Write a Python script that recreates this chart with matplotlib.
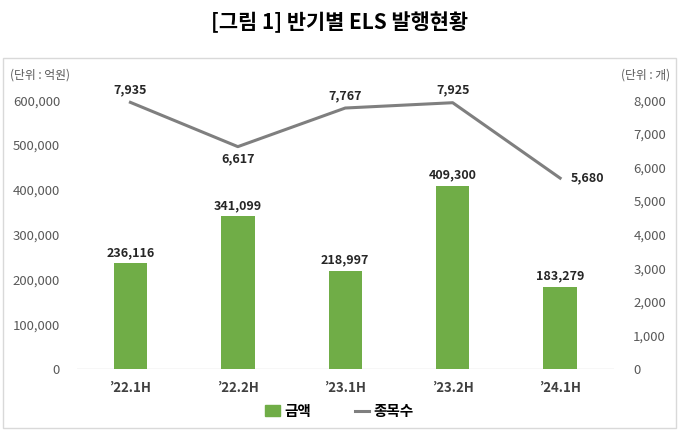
import matplotlib.pyplot as plt
from matplotlib.patches import Rectangle
from matplotlib.lines import Line2D
from matplotlib.ticker import FuncFormatter

plt.rcParams['font.family'] = ['Noto Sans CJK KR', 'DejaVu Sans']

periods = ['\u201922.1H', '\u201922.2H', '\u201923.1H', '\u201923.2H', '\u201924.1H']
amount = [236116, 341099, 218997, 409300, 183279]
count = [7935, 6617, 7767, 7925, 5680]

green = '#70AD47'
gray = '#7F7F7F'
tick_col = '#595959'

fig = plt.figure(figsize=(6.79, 4.30), dpi=100)
ax = fig.add_axes([0.113, 0.142, 0.791, 0.625])
ax2 = ax.twinx()

x = range(len(periods))
ax.bar(x, amount, width=0.31, color=green, zorder=2)
for i, v in enumerate(amount):
    ax.text(i, v + 9000, f'{v:,}', ha='center', va='bottom', fontsize=9,
            fontweight='bold', color='#262626')

ax2.plot(x, count, color=gray, lw=2.2, zorder=3)
for i, v in enumerate(count):
    if i == 1:
        ax2.text(i, v - 180, f'{v:,}', ha='center', va='top', fontsize=9,
                 fontweight='bold', color='#262626')
    elif i == 4:
        ax2.text(i + 0.1, v, f'{v:,}', ha='left', va='center', fontsize=9,
                 fontweight='bold', color='#262626')
    else:
        ax2.text(i, v + 180, f'{v:,}', ha='center', va='bottom', fontsize=9,
                 fontweight='bold', color='#262626')

ax.set_xlim(-0.5, len(periods) - 0.5)
ax.set_ylim(0, 600000)
ax2.set_ylim(0, 8000)
ax.set_yticks(range(0, 600001, 100000))
ax2.set_yticks(range(0, 8001, 1000))
fmt = FuncFormatter(lambda v, p: f'{int(v):,}')
ax.yaxis.set_major_formatter(fmt)
ax2.yaxis.set_major_formatter(fmt)
ax.set_xticks(list(x))
ax.set_xticklabels(periods, fontweight='bold', fontsize=9.5, color='#404040')

for a in (ax, ax2):
    for s in a.spines.values():
        s.set_visible(False)
    a.tick_params(length=0, labelsize=9.5, labelcolor=tick_col)
ax.tick_params(axis='y', pad=12)
ax2.tick_params(axis='y', pad=14)
ax.tick_params(axis='x', pad=9, labelcolor='#404040')
ax.axhline(0, color='#D9D9D9', lw=1, zorder=1)

fig.text(0.5, 0.948, '[그림 1] 반기별 ELS 발행현황', ha='center', va='center',
         fontsize=15, fontweight='bold')
fig.text(0.015, 0.825, '(단위 : 억원)', ha='left', va='center', fontsize=8.5, color=tick_col)
fig.text(0.987, 0.825, '(단위 : 개)', ha='right', va='center', fontsize=8.5, color=tick_col)

fig.patches.append(Rectangle((0.005, 0.005), 0.99, 0.86, transform=fig.transFigure,
                             fill=False, edgecolor='#D9D9D9', lw=1))

handles = [Rectangle((0, 0), 1, 1, color=green),
           Line2D([0], [0], color=gray, lw=2.2)]
fig.legend(handles, ['금액', '종목수'], loc='center', bbox_to_anchor=(0.5, 0.045),
           ncol=2, frameon=False, handlelength=1.0, handletextpad=0.3,
           columnspacing=3.0, prop={'weight': 'bold', 'size': 10.5})

fig.savefig('out.png', dpi=100)
